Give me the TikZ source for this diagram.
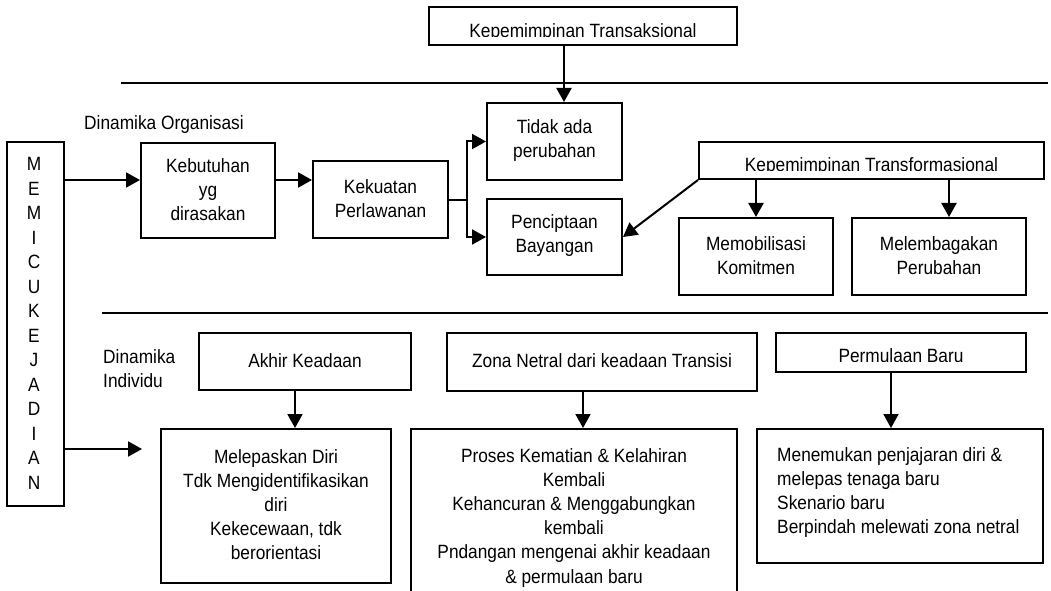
\documentclass[tikz,border=0pt]{standalone}
\usepackage{fontspec}
\setmainfont[FakeStretch=0.9]{Liberation Sans}
\usetikzlibrary{arrows.meta,fit}
\tikzset{
    kotak/.style={draw, line width=0.06cm, inner sep=0pt},
    isi/.style={label={[align=center, inner sep=0pt, yshift=0.03cm]center:#1}},
    panah/.style={line width=0.06cm, -{Triangle[length=0.42cm,width=0.45cm]}},
    garis/.style={line width=0.06cm},
    judul/.style={inner sep=0pt}
}
\begin{document}
\begin{tikzpicture}[x=0.03cm, y=-0.03cm, font=\fontsize{16.4}{20.5}\selectfont]
    \useasboundingbox (0,0) rectangle (1051,591);
    \draw[garis] (121,83) -- (1048,83);
    \draw[garis] (102,313) -- (1048,313);
    % pemicu
    \node[kotak, fit={(7,142) (64,506)}] (picu) {};
    \foreach \h [count=\i from 0] in {M,E,M,I,C,U,K,E,J,A,D,I,A,N}
        \node (huruf\i) at (34,164+24.5*\i) {\h};
    % dinamika organisasi
    \node[judul, anchor=west] (dinOrg) at (84,125) {Dinamika Organisasi};
    \node[kotak, fit={(141,143) (275,238)}, isi={Kebutuhan\\yg\\dirasakan}] (butuh) {};
    \node[kotak, fit={(313,161) (448,238)}, isi={Kekuatan\\Perlawanan}] (kuat) {};
    \node[kotak, fit={(487,103) (622,180)}, isi={Tidak ada\\perubahan}] (tidak) {};
    \node[kotak, fit={(487,199) (622,275)}, isi={Penciptaan\\Bayangan}] (cipta) {};
    \node[kotak, fit={(429,7) (737,45)}] (transA) {};
    \begin{scope}
        \clip (429,7) rectangle (737,36.5);
        \node[judul, anchor=base] (transAteks) at (583,37.5) {Kepemimpinan Transaksional};
    \end{scope}
    \node[kotak, fit={(699,142) (1044,179)}] (transB) {};
    \begin{scope}
        \clip (699,142) rectangle (1044,170);
        \node[judul, anchor=base] (transBteks) at (871.5,171) {Kepemimpinan Transformasional};
    \end{scope}
    \node[kotak, fit={(679,218) (833,295)}, isi={Memobilisasi\\Komitmen}] (mobil) {};
    \node[kotak, fit={(852,218) (1026,295)}, isi={Melembagakan\\Perubahan}] (lembaga) {};
    % dinamika individu
    \node[judul, anchor=west, align=left] (dinInd) at (103,368.5) {Dinamika\\Individu};
    \node[kotak, fit={(199,333) (411,390)}, isi={Akhir Keadaan}] (akhir) {};
    \node[kotak, fit={(447,333) (757,391)}, isi={Zona Netral dari keadaan Transisi}] (zona) {};
    \node[kotak, fit={(776,333) (1026,372)}] (mulai) {};
    \begin{scope}
        \clip (776,333) rectangle (1026,361);
        \node[judul, anchor=base] (mulaiteks) at (901,362) {Permulaan Baru};
    \end{scope}
    \node[kotak, fit={(161,429) (391,583)}, isi={Melepaskan Diri\\Tdk Mengidentifikasikan\\diri\\Kekecewaan, tdk\\berorientasi}] (lepas) {};
    \node[kotak, fit={(411,429) (737,609)}, isi={Proses Kematian \& Kelahiran\\Kembali\\Kehancuran \& Menggabungkan\\kembali\\Pndangan mengenai akhir keadaan\\\& permulaan baru}] (proses) {};
    \node[kotak, fit={(757,429) (1043,563)}] (temu) {};
    \node[judul, anchor=west, align=left] (temuteks) at (777,493) {Menemukan penjajaran diri \&\\melepas tenaga baru\\Skenario baru\\Berpindah melewati zona netral};
    % panah
    \coordinate (jalur1) at (0,180);
    \coordinate (ujung) at (142,449);
    \coordinate (jalurA) at (564,0);
    \coordinate (jalurL) at (949,0);
    \coordinate (jalurB) at (295,0);
    \coordinate (jalurZ) at (583,0);
    \coordinate (jalurM) at (891,0);
    \draw[panah] (picu.east |- jalur1) -- (butuh.west |- jalur1);
    \draw[panah] (butuh.east |- jalur1) -- (kuat.west |- jalur1);
    \draw[garis] (kuat.east) -- ++(18,0) coordinate (cabang);
    \draw[panah] (cabang) |- (tidak.west);
    \draw[panah] (cabang) |- (cipta.west);
    \draw[panah] (transA.south -| jalurA) -- (tidak.north -| jalurA);
    \draw[panah] (transB.south west) -- (cipta.east);
    \draw[panah] (transB.south -| mobil.north) -- (mobil.north);
    \draw[panah] (transB.south -| jalurL) -- (lembaga.north -| jalurL);
    \draw[panah] (picu.east |- ujung) -- (ujung);
    \draw[panah] (akhir.south -| jalurB) -- (lepas.north -| jalurB);
    \draw[panah] (zona.south -| jalurZ) -- (proses.north -| jalurZ);
    \draw[panah] (mulai.south -| jalurM) -- (temu.north -| jalurM);
\end{tikzpicture}
\end{document}
